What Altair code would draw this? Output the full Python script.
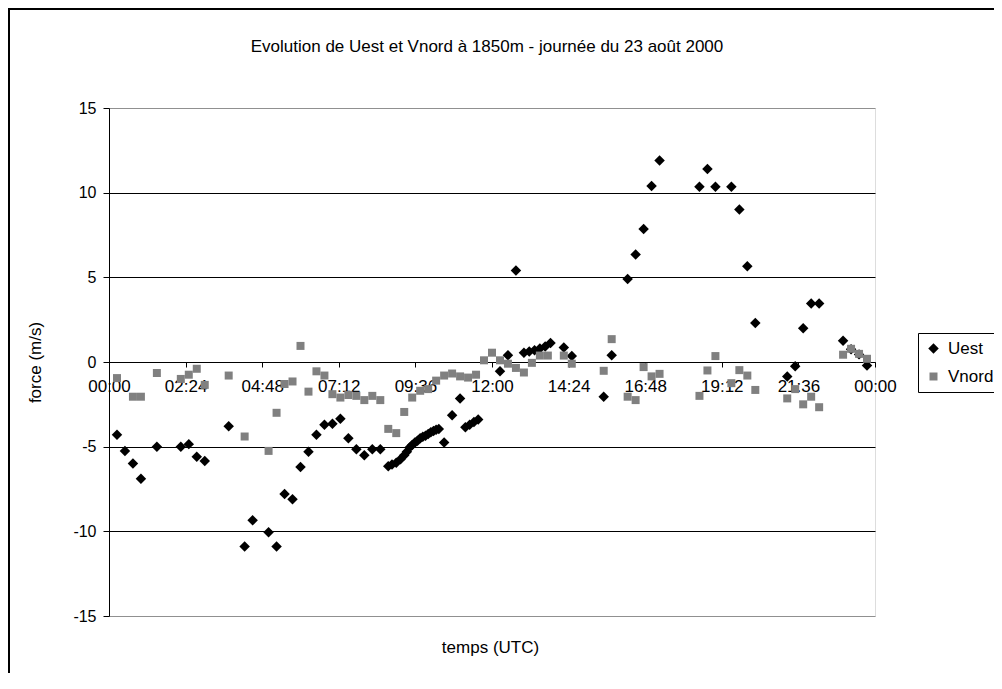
import altair as alt
import pandas as pd

# ---- data ----
uest_time = ["00:15","00:30","00:45","01:00","01:30","02:15","02:30","02:45","03:00","03:45",
             "04:15","04:30","05:00","05:15","05:30","05:45","06:00","06:15","06:30","06:45",
             "07:00","07:15","07:30","07:45","08:00","08:15","08:30","08:45","08:52","09:00",
             "09:08","09:15","09:20","09:25","09:30","09:35","09:40","09:45","09:50","09:55",
             "10:00","10:05","10:10","10:15","10:20","10:30","10:45","11:00","11:10","11:18",
             "11:26","11:34","12:15","12:30","12:45","13:00","13:10","13:20","13:30","13:40",
             "13:50","14:15","14:30","15:30","15:45","16:15","16:30","16:45","17:00","17:15",
             "18:30","18:45","19:00","19:30","19:45","20:00","20:15","21:15","21:30","21:45",
             "22:00","22:15","23:00","23:15","23:30","23:45"]
uest_value = [-4.3,-5.25,-6.0,-6.9,-5.0,-5.0,-4.85,-5.6,-5.85,-3.8,
              -10.9,-9.35,-10.05,-10.9,-7.8,-8.1,-6.2,-5.3,-4.3,-3.7,
              -3.65,-3.35,-4.5,-5.15,-5.5,-5.15,-5.15,-6.15,-6.05,-5.95,
              -5.75,-5.5,-5.3,-5.05,-4.9,-4.75,-4.65,-4.5,-4.42,-4.35,
              -4.25,-4.15,-4.08,-4.0,-3.95,-4.75,-3.15,-2.15,-3.85,-3.7,
              -3.55,-3.4,-0.55,0.4,5.4,0.55,0.62,0.7,0.8,0.92,
              1.12,0.85,0.35,-2.05,0.4,4.9,6.35,7.85,10.4,11.9,
              10.35,11.4,10.35,10.35,9.0,5.65,2.3,-0.85,-0.25,2.0,
              3.45,3.45,1.25,0.75,0.45,-0.2]

vnord_time = ["00:15","00:45","01:00","01:30","02:15","02:30","02:45","03:00","03:45","04:15",
              "05:00","05:15","05:30","05:45","06:00","06:15","06:30","06:45","07:00","07:15",
              "07:30","07:45","08:00","08:15","08:30","08:45","09:00","09:15","09:30","09:45",
              "10:00","10:15","10:30","10:45","11:00","11:15","11:30","11:45","12:00","12:15",
              "12:30","12:45","13:00","13:15","13:30","13:45","14:15","14:30","15:30","15:45",
              "16:15","16:30","16:45","17:00","17:15","18:30","18:45","19:00","19:30","19:45",
              "20:00","20:15","21:15","21:30","21:45","22:00","22:15","23:00","23:15","23:30",
              "23:45"]
vnord_value = [-0.95,-2.05,-2.05,-0.65,-1.0,-0.75,-0.4,-1.35,-0.8,-4.4,
               -5.25,-3.0,-1.3,-1.15,0.95,-1.75,-0.55,-0.8,-1.9,-2.1,
               -1.95,-2.0,-2.25,-2.0,-2.25,-3.95,-4.2,-2.95,-2.1,-1.7,
               -1.6,-1.1,-0.8,-0.68,-0.85,-0.92,-0.75,0.1,0.55,0.1,
               -0.1,-0.35,-0.62,-0.05,0.38,0.38,0.38,-0.1,-0.52,1.35,
               -2.05,-2.25,-0.3,-0.85,-0.7,-2.0,-0.5,0.35,-1.25,-0.48,
               -0.8,-1.65,-2.15,-1.6,-2.5,-2.05,-2.67,0.43,0.78,0.48,
               0.19]

series = ["Uest", "Vnord"]
x_ticks = [0, 2.4, 4.8, 7.2, 9.6, 12, 14.4, 16.8, 19.2, 21.6, 24]
y_ticks = [-15, -10, -5, 0, 5, 10, 15]
title_text = "Evolution de Uest et Vnord à 1850m - journée du 23 août 2000"


def to_hours(t):
    h, m = t.split(":")
    return int(h) + int(m) / 60.0


rows = [{"serie": "Uest", "heure": to_hours(t), "force": v} for t, v in zip(uest_time, uest_value)]
rows += [{"serie": "Vnord", "heure": to_hours(t), "force": v} for t, v in zip(vnord_time, vnord_value)]
df = pd.DataFrame(rows)

FONT = "Liberation Sans"
W, H = 766, 508

legend = alt.Legend(
    orient="none", legendX=809, legendY=225, title=None,
    strokeColor="black", fillColor="white", padding=7,
    labelFontSize=17, labelFont=FONT, labelColor="black",
    rowPadding=10, symbolSize=80, labelOffset=6, symbolStrokeWidth=0,
)

points = alt.Chart(df).mark_point(filled=True, opacity=1, strokeWidth=0).encode(
    x=alt.X(
        "heure:Q",
        scale=alt.Scale(domain=[0, 24], nice=False, zero=False),
        axis=alt.Axis(
            values=x_ticks,
            labelExpr="utcFormat(datum.value * 3600000, '%H:%M')",
            offset=-254, title="temps (UTC)", titleX=381, titleY=285,
            titleAlign="center", titleBaseline="middle",
            titleFontSize=17, titleFontWeight="normal", titleFont=FONT, titleColor="black",
            labelFontSize=17, labelFont=FONT, labelColor="black", labelPadding=11,
            labelFlush=False, labelOverlap=False, labelBound=False,
            tickSize=5, tickColor="black", domainColor="black", grid=False,
        ),
    ),
    y=alt.Y(
        "force:Q",
        scale=alt.Scale(domain=[-15, 15], nice=False),
        axis=alt.Axis(
            values=y_ticks, title="force (m/s)",
            labelExpr="'' + datum.value",
            titleX=-74, titleY=254, titleAngle=270, titleAlign="center", titleBaseline="middle",
            titleFontSize=17, titleFontWeight="normal", titleFont=FONT, titleColor="black",
            labelFontSize=16, labelFont=FONT, labelColor="black", labelPadding=7,
            tickSize=6, tickColor="black", domainColor="black",
            grid=True,
            gridColor={"condition": {"test": "abs(datum.value) == 15", "value": "#909090"}, "value": "black"},
        ),
    ),
    color=alt.Color("serie:N", scale=alt.Scale(domain=series, range=["black", "#808080"]), legend=legend),
    shape=alt.Shape("serie:N", scale=alt.Scale(domain=series, range=["diamond", "square"]), legend=legend),
    size=alt.Size("serie:N", scale=alt.Scale(domain=series, range=[110, 64]), legend=None),
)

frame_left = alt.Chart(alt.Data(values=[{}])).mark_rule(color="black", strokeWidth=2).encode(
    x=alt.value(-100), y=alt.value(-100), y2=alt.value(H + 60)
)
frame_top = alt.Chart(alt.Data(values=[{}])).mark_rule(color="black", strokeWidth=2).encode(
    y=alt.value(-99), x=alt.value(-101), x2=alt.value(W + 125)
)
title = alt.Chart(alt.Data(values=[{"t": title_text}])).mark_text(
    font=FONT, fontSize=17, color="black", align="center", baseline="middle"
).encode(text="t:N", x=alt.value(378), y=alt.value(-61))

chart = alt.layer(frame_left, frame_top, title, points).properties(
    width=W, height=H,
    autosize=alt.AutoSizeParams(type="none"),
    padding={"left": 101, "top": 100, "right": 119, "bottom": 57},
).configure_view(stroke="#808080", strokeWidth=1).configure(font=FONT)

chart.save("out.html", embed_options={"renderer": "svg", "actions": False})
